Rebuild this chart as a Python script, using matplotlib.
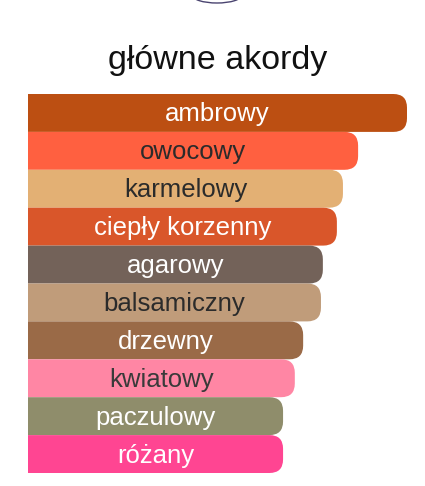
import matplotlib.pyplot as plt
from matplotlib.patches import FancyBboxPatch, Ellipse

plt.rcParams['font.family'] = ['Liberation Sans', 'DejaVu Sans']

akordy = ['ambrowy', 'owocowy', 'karmelowy', 'ciepły korzenny', 'agarowy',
          'balsamiczny', 'drzewny', 'kwiatowy', 'paczulowy', 'różany']
wartosci = [100, 87.1, 83.1, 81.5, 77.8, 77.3, 72.6, 70.4, 67.3, 67.3]
kolory = ['#BC4F12', '#FF6040', '#E3B074', '#D9562A', '#736259',
          '#C09C7A', '#9A6A47', '#FF86A4', '#8F8D6B', '#FF4592']
kolory_tekstu = ['white', '#2b2b2b', '#2b2b2b', 'white', 'white',
                 '#2b2b2b', 'white', '#3a3a3a', 'white', 'white']

W, H = 425, 486
fig = plt.figure(figsize=(W / 100, H / 100), dpi=100)

# osie od x=28 px do prawej krawedzi, slupki od y=94 do y=473 px
ax = fig.add_axes([28 / W, (H - 473) / H, (W - 28) / W, 379 / H])
x_max = (W - 28) / 3.79
ax.set_xlim(0, x_max)
ax.set_ylim(len(akordy) - 0.5, -0.5)
ax.axis('off')

for i, (nazwa, v, k, kt) in enumerate(zip(akordy, wartosci, kolory, kolory_tekstu)):
    # lewa czesc wychodzi poza osie i jest przycinana -> ostre lewe rogi
    p = FancyBboxPatch((-8, i - 0.5), v + 8, 1.0,
                       boxstyle='round,pad=0,rounding_size=3.6',
                       mutation_aspect=0.1, facecolor=k, edgecolor='none')
    ax.add_patch(p)
    ax.text(v / 2, i + 0.04, nazwa, ha='center', va='center',
            fontsize=18.5, color=kt)

fig.text(0.512, 1 - 61 / H, 'główne akordy', ha='center', va='center',
         fontsize=24.5, color='#111111')

# kawalek logo u gory
ax_logo = fig.add_axes([0, 0, 1, 1], zorder=-1)
ax_logo.set_xlim(0, W)
ax_logo.set_ylim(H, 0)
ax_logo.axis('off')
ax_logo.add_patch(Ellipse((217, -5), 50, 16, fill=False,
                          edgecolor='#4a4470', linewidth=1.0))

fig.savefig('out.png', dpi=100)
